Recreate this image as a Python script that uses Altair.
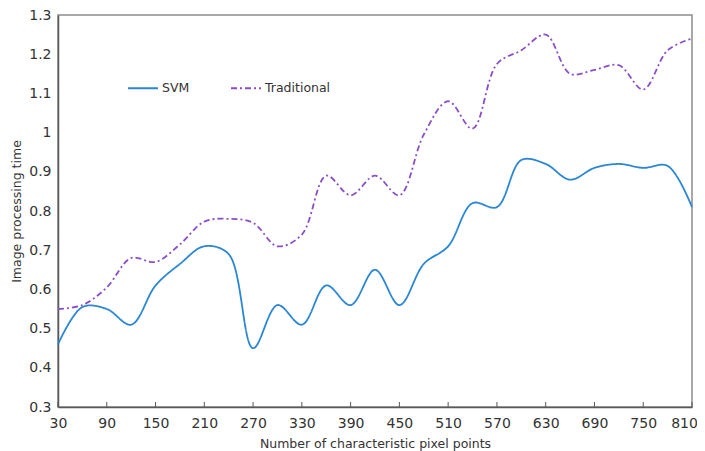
import altair as alt
import pandas as pd

# ---- data ----
x_vals = [30, 60, 90, 120, 150, 180, 210, 240, 270, 300, 330, 360, 390, 420,
          450, 480, 510, 540, 570, 600, 630, 660, 690, 720, 750, 780, 810]
svm = [0.46, 0.555, 0.55, 0.51, 0.61, 0.665, 0.71, 0.69, 0.45, 0.56, 0.51, 0.61, 0.56, 0.65,
       0.56, 0.665, 0.71, 0.82, 0.81, 0.93, 0.92, 0.88, 0.91, 0.92, 0.91, 0.915, 0.81]
traditional = [0.55, 0.56, 0.605, 0.68, 0.67, 0.715, 0.773, 0.78, 0.77, 0.71, 0.74, 0.89, 0.84, 0.89,
               0.84, 0.995, 1.08, 1.01, 1.175, 1.21, 1.25, 1.15, 1.16, 1.172, 1.11, 1.21, 1.24]
series_names = ["SVM", "Traditional"]
series_colors = ["#2B87D3", "#8A4FC6"]
series_dashes = [[1, 0], [6, 3, 2, 3]]
x_ticks = [30, 90, 150, 210, 270, 330, 390, 450, 510, 570, 630, 690, 750, 810]
y_ticks = [0.3, 0.4, 0.5, 0.6, 0.7, 0.8, 0.9, 1.0, 1.1, 1.2, 1.3]

rows = []
for xv, v in zip(x_vals, svm):
    rows.append({"x": xv, "series": "SVM", "y": v})
for xv, v in zip(x_vals, traditional):
    rows.append({"x": xv, "series": "Traditional", "y": v})
df = pd.DataFrame(rows)

W, H = 634, 392
FONT = "DejaVu Sans"
TXT = "#333333"
AX = "#595959"

x_scale = alt.Scale(domain=[30, 810], nice=False, zero=False)
y_scale = alt.Scale(domain=[0.3, 1.3], nice=False, zero=False)

legend = alt.Legend(
    title=None, orient="none", legendX=69, legendY=57, direction="horizontal",
    symbolType="stroke", symbolSize=900, symbolStrokeWidth=1.8,
    labelFont=FONT, labelFontSize=12.5, labelColor=TXT, labelOffset=3,
    columnPadding=37,
)

lines = alt.Chart(df).mark_line(interpolate="catmull-rom", strokeWidth=1.8).encode(
    x=alt.X("x:Q", scale=x_scale,
            axis=alt.Axis(values=x_ticks, title="Number of characteristic pixel points",
                          ticks=False, grid=False, labelFlush=False, labelOverlap=False,
                          labelOffset={"condition": {"test": "datum.value == 810", "value": -8},
                                       "value": 0},
                          labelPadding=9, titlePadding=7)),
    y=alt.Y("y:Q", scale=y_scale,
            axis=alt.Axis(values=y_ticks, format="~g", title="Image processing time",
                          ticks=False, grid=False, labelPadding=7, titlePadding=5)),
    color=alt.Color("series:N", scale=alt.Scale(domain=series_names, range=series_colors),
                    legend=legend),
    strokeDash=alt.StrokeDash("series:N",
                              scale=alt.Scale(domain=series_names, range=series_dashes),
                              legend=legend),
)

ticks = alt.Chart(pd.DataFrame({"x": x_ticks})).mark_rule(color=AX, strokeWidth=1).encode(
    x=alt.X("x:Q", scale=x_scale),
    y=alt.value(H),
    y2=alt.value(H - 5),
)

chart = alt.layer(ticks, lines).properties(
    width=W, height=H,
    autosize=alt.AutoSizeParams(type="none"),
    padding={"left": 50, "top": 7, "right": 5, "bottom": 44},
).configure_view(
    stroke="#8c8c8c", strokeWidth=1.5,
).configure_axis(
    labelFont=FONT, labelFontSize=14, labelColor=TXT,
    titleFont=FONT, titleFontSize=12.5, titleColor=TXT, titleFontWeight="normal",
    domainColor=AX, domainWidth=1.5,
)

chart.save("out.html", embed_options={"renderer": "svg", "actions": False})
